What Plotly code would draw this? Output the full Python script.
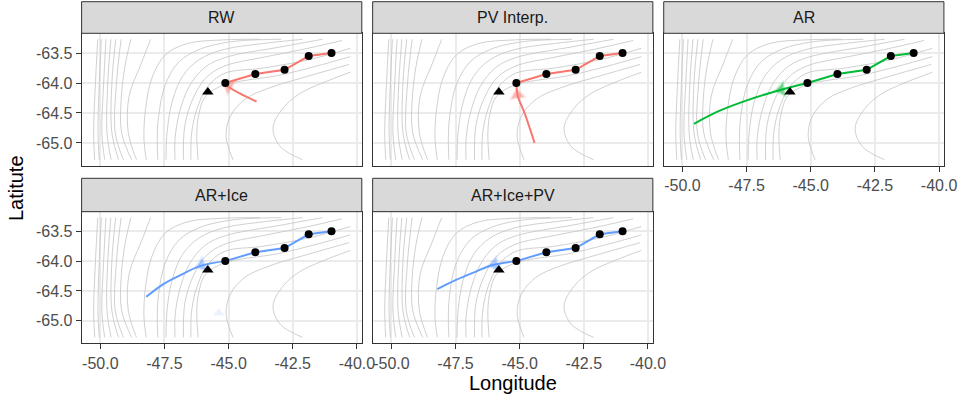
import plotly.graph_objects as go

W, H = 973, 400

# ---------------- data ----------------
panel_names = ["RW", "PV Interp.", "AR", "AR+Ice", "AR+Ice+PV"]
panel_colors = ["#F8766D", "#F8766D", "#00BA38", "#619CFF", "#619CFF"]

# observed track (black dots) and start location (triangle)
obs_lon = [-45.13, -43.96, -42.82, -41.88, -40.99]
obs_lat = [-64.00, -63.85, -63.78, -63.55, -63.50]
start_lon = [-45.81]
start_lat = [-64.15]

# predicted tracks per model
rw_lon = [-45.13, -44.98, -43.91]
rw_lat = [-64.00, -64.07, -64.31]
pv_lon = [-44.42, -44.81, -45.07, -45.13]
pv_lat = [-65.00, -64.50, -64.22, -64.00]
ar_lon = [-45.13, -46.22, -47.63, -48.59, -49.55]
ar_lat = [-64.00, -64.12, -64.31, -64.47, -64.68]
arice_lon = [-45.13, -46.09, -46.99, -47.63, -48.21]
arice_lat = [-64.00, -64.08, -64.26, -64.41, -64.60]
aricepv_lon = [-45.13, -46.09, -46.73, -47.50, -48.21]
aricepv_lat = [-64.00, -64.07, -64.18, -64.32, -64.47]

# translucent arrow heads (ensemble end points)
head_lon = [-45.00, -45.09, -46.15, -46.05, -45.98]
head_lat = [-64.06, -64.20, -64.11, -64.07, -64.06]
head_angle = [-59, -8, -100, -110, -100]
faint_lon = [-45.38]
faint_lat = [-64.87]

# background contour lines (lon / lat per line)
contour_lon = [
    [-50.10, -50.19, -50.26, -50.22],
    [-49.96, -50.04, -50.09, -50.04],
    [-49.78, -49.87, -49.94, -49.83],
    [-49.59, -49.71, -49.74, -49.58],
    [-49.40, -49.55, -49.55, -49.29],
    [-49.19, -49.37, -49.42, -49.10],
    [-48.81, -49.04, -49.19, -49.17, -48.78],
    [-48.04, -48.40, -48.88, -48.91, -48.59],
    [-43.78, -45.19, -46.60, -47.47, -47.99, -48.24, -48.30, -48.21],
    [-42.95, -44.42, -45.18, -46.09, -46.92, -47.47, -47.73, -47.78, -47.76],
    [-42.12, -43.65, -45.18, -46.15, -46.80, -47.21, -47.40, -47.44],
    [-41.35, -42.88, -45.18, -45.96, -46.54, -46.92, -47.09, -47.09],
    [-40.58, -42.12, -43.65, -45.18, -45.90, -46.41, -46.71, -46.76],
    [-40.26, -41.86, -43.65, -45.18, -45.83, -46.24, -46.44, -46.47],
    [-40.26, -41.60, -43.14, -44.42, -45.18, -45.90, -46.15, -46.24, -46.19],
    [-40.31, -41.86, -43.40, -44.36, -44.94, -45.10, -44.83],
    [-40.26, -41.35, -42.24, -42.88, -43.27, -42.99, -42.12],
]
contour_lat = [
    [-63.27, -64.00, -64.83, -65.28],
    [-63.27, -64.00, -64.83, -65.28],
    [-63.27, -64.00, -64.83, -65.28],
    [-63.27, -64.00, -64.83, -65.28],
    [-63.27, -64.00, -64.83, -65.28],
    [-63.27, -64.00, -64.83, -65.28],
    [-63.27, -63.72, -64.28, -64.83, -65.28],
    [-63.27, -63.67, -64.22, -64.83, -65.28],
    [-63.27, -63.28, -63.34, -63.53, -63.92, -64.44, -64.94, -65.28],
    [-63.27, -63.29, -63.33, -63.43, -63.64, -64.03, -64.56, -64.94, -65.28],
    [-63.27, -63.34, -63.44, -63.61, -63.89, -64.33, -64.83, -65.28],
    [-63.27, -63.39, -63.58, -63.75, -64.06, -64.50, -64.94, -65.28],
    [-63.29, -63.44, -63.57, -63.72, -63.92, -64.28, -64.72, -65.28],
    [-63.42, -63.61, -63.75, -63.84, -64.07, -64.44, -64.83, -65.28],
    [-63.56, -63.72, -63.88, -63.96, -64.03, -64.22, -64.50, -64.83, -65.28],
    [-63.69, -63.88, -64.08, -64.27, -64.56, -64.89, -65.28],
    [-63.82, -64.00, -64.18, -64.42, -64.75, -65.06, -65.28],
]

lon_ticks = [-50.0, -47.5, -45.0, -42.5, -40.0]
lon_labels = ["-50.0", "-47.5", "-45.0", "-42.5", "-40.0"]
lat_ticks = [-63.5, -64.0, -64.5, -65.0]
lat_labels = ["-63.5", "-64.0", "-64.5", "-65.0"]

x_range = [-50.73, -39.81]
y_range = [-65.38, -63.17]

# ---------------- layout geometry (pixels) ----------------
col_px = [(82.7, 366.7), (377.7, 661.7), (672.7, 956.7)]
row_px = [(33.3, 165.7), (211.7, 343.3)]
strip_px = [(1.7, 33.3), (178.3, 211.7)]
panel_pos = [(0, 0), (0, 1), (0, 2), (1, 0), (1, 1)]

pred_lons = [rw_lon, pv_lon, ar_lon, arice_lon, aricepv_lon]
pred_lats = [rw_lat, pv_lat, ar_lat, arice_lat, aricepv_lat]

FONT = "Liberation Sans, Arial, Helvetica, sans-serif"

fig = go.Figure()
layout = dict(
    width=W, height=H,
    margin=dict(l=0, r=0, t=0, b=0),
    paper_bgcolor="white", plot_bgcolor="white",
    showlegend=False,
    font=dict(family=FONT, size=16, color="#4D4D4D"),
)
shapes = []
annotations = []

for i, name in enumerate(panel_names):
    r, c = panel_pos[i]
    xs = "" if i == 0 else str(i + 1)
    xref, yref = "x" + xs, "y" + xs
    col = panel_colors[i]

    # contours
    for clon, clat in zip(contour_lon, contour_lat):
        fig.add_trace(go.Scatter(
            x=clon, y=clat, mode="lines", xaxis=xref, yaxis=yref,
            line=dict(color="#C4C4C4", width=0.8, shape="spline", smoothing=1.0),
            hoverinfo="skip"))

    # predicted track
    fig.add_trace(go.Scatter(
        x=pred_lons[i], y=pred_lats[i], mode="lines", xaxis=xref, yaxis=yref,
        line=dict(color=col, width=2, shape="spline", smoothing=1.0)))
    # translucent heads (fuzzy ensemble)
    fig.add_trace(go.Scatter(
        x=[head_lon[i]], y=[head_lat[i]], mode="markers", xaxis=xref, yaxis=yref,
        marker=dict(symbol="triangle-up", size=16, color=col, opacity=0.2,
                    angle=head_angle[i], line=dict(width=0))))
    fig.add_trace(go.Scatter(
        x=[head_lon[i]], y=[head_lat[i]], mode="markers", xaxis=xref, yaxis=yref,
        marker=dict(symbol="triangle-up", size=11, color=col, opacity=0.4,
                    angle=head_angle[i], line=dict(width=0))))
    if name == "AR+Ice":
        fig.add_trace(go.Scatter(
            x=faint_lon, y=faint_lat, mode="markers", xaxis=xref, yaxis=yref,
            marker=dict(symbol="triangle-up", size=10, color=col, opacity=0.12,
                        line=dict(width=0))))
    # observed track line
    fig.add_trace(go.Scatter(
        x=obs_lon, y=obs_lat, mode="lines", xaxis=xref, yaxis=yref,
        line=dict(color=col, width=2)))
    # observed points
    fig.add_trace(go.Scatter(
        x=obs_lon, y=obs_lat, mode="markers", xaxis=xref, yaxis=yref,
        marker=dict(symbol="circle", size=8, color="black", line=dict(width=0))))
    # start triangle
    fig.add_trace(go.Scatter(
        x=start_lon, y=start_lat, mode="markers", xaxis=xref, yaxis=yref,
        marker=dict(symbol="triangle-up", size=10, color="black", line=dict(width=0))))

    x0, x1 = col_px[c]
    y0, y1 = row_px[r]
    show_x = (r == 1) or (i == 2)
    show_y = (c == 0)
    layout["xaxis" + xs] = dict(
        domain=[x0 / W, x1 / W], anchor=yref, range=x_range,
        tickvals=lon_ticks, ticktext=lon_labels,
        showticklabels=show_x, ticks="outside" if show_x else "",
        ticklen=5, tickwidth=1, tickcolor="#333333",
        tickfont=dict(size=16, color="#4D4D4D", family=FONT),
        showgrid=True, gridcolor="#EBEBEB", gridwidth=1.5, zeroline=False,
        showline=True, mirror=True, linecolor="#333333", linewidth=1,
        fixedrange=True)
    layout["yaxis" + xs] = dict(
        domain=[1 - y1 / H, 1 - y0 / H], anchor=xref, range=y_range,
        tickvals=lat_ticks, ticktext=lat_labels,
        showticklabels=show_y, ticks="outside" if show_y else "",
        ticklen=5, tickwidth=1, tickcolor="#333333",
        tickfont=dict(size=16, color="#4D4D4D", family=FONT),
        showgrid=True, gridcolor="#EBEBEB", gridwidth=1.5, zeroline=False,
        showline=True, mirror=True, linecolor="#333333", linewidth=1,
        fixedrange=True)

    sy0, sy1 = strip_px[r]
    shapes.append(dict(type="rect", xref="paper", yref="paper",
                       x0=x0 / W, x1=x1 / W, y0=1 - sy1 / H, y1=1 - sy0 / H,
                       fillcolor="#D9D9D9", line=dict(color="#333333", width=1),
                       layer="above"))
    annotations.append(dict(text=name, xref="paper", yref="paper",
                            x=(x0 + x1) / 2 / W, y=1 - (sy0 + sy1) / 2 / H,
                            xanchor="center", yanchor="middle", showarrow=False,
                            font=dict(size=16, color="#1A1A1A", family=FONT)))

annotations.append(dict(text="Longitude", xref="paper", yref="paper",
                        x=(82.7 + 956.7) / 2 / W, y=1 - 383 / H,
                        xanchor="center", yanchor="middle", showarrow=False,
                        font=dict(size=20, color="black", family=FONT)))
annotations.append(dict(text="Latitute", xref="paper", yref="paper",
                        x=17 / W, y=1 - 188.3 / H, textangle=-90,
                        xanchor="center", yanchor="middle", showarrow=False,
                        font=dict(size=20, color="black", family=FONT)))

layout["shapes"] = shapes
layout["annotations"] = annotations
fig.update_layout(**layout)
fig.write_html("out.html")
